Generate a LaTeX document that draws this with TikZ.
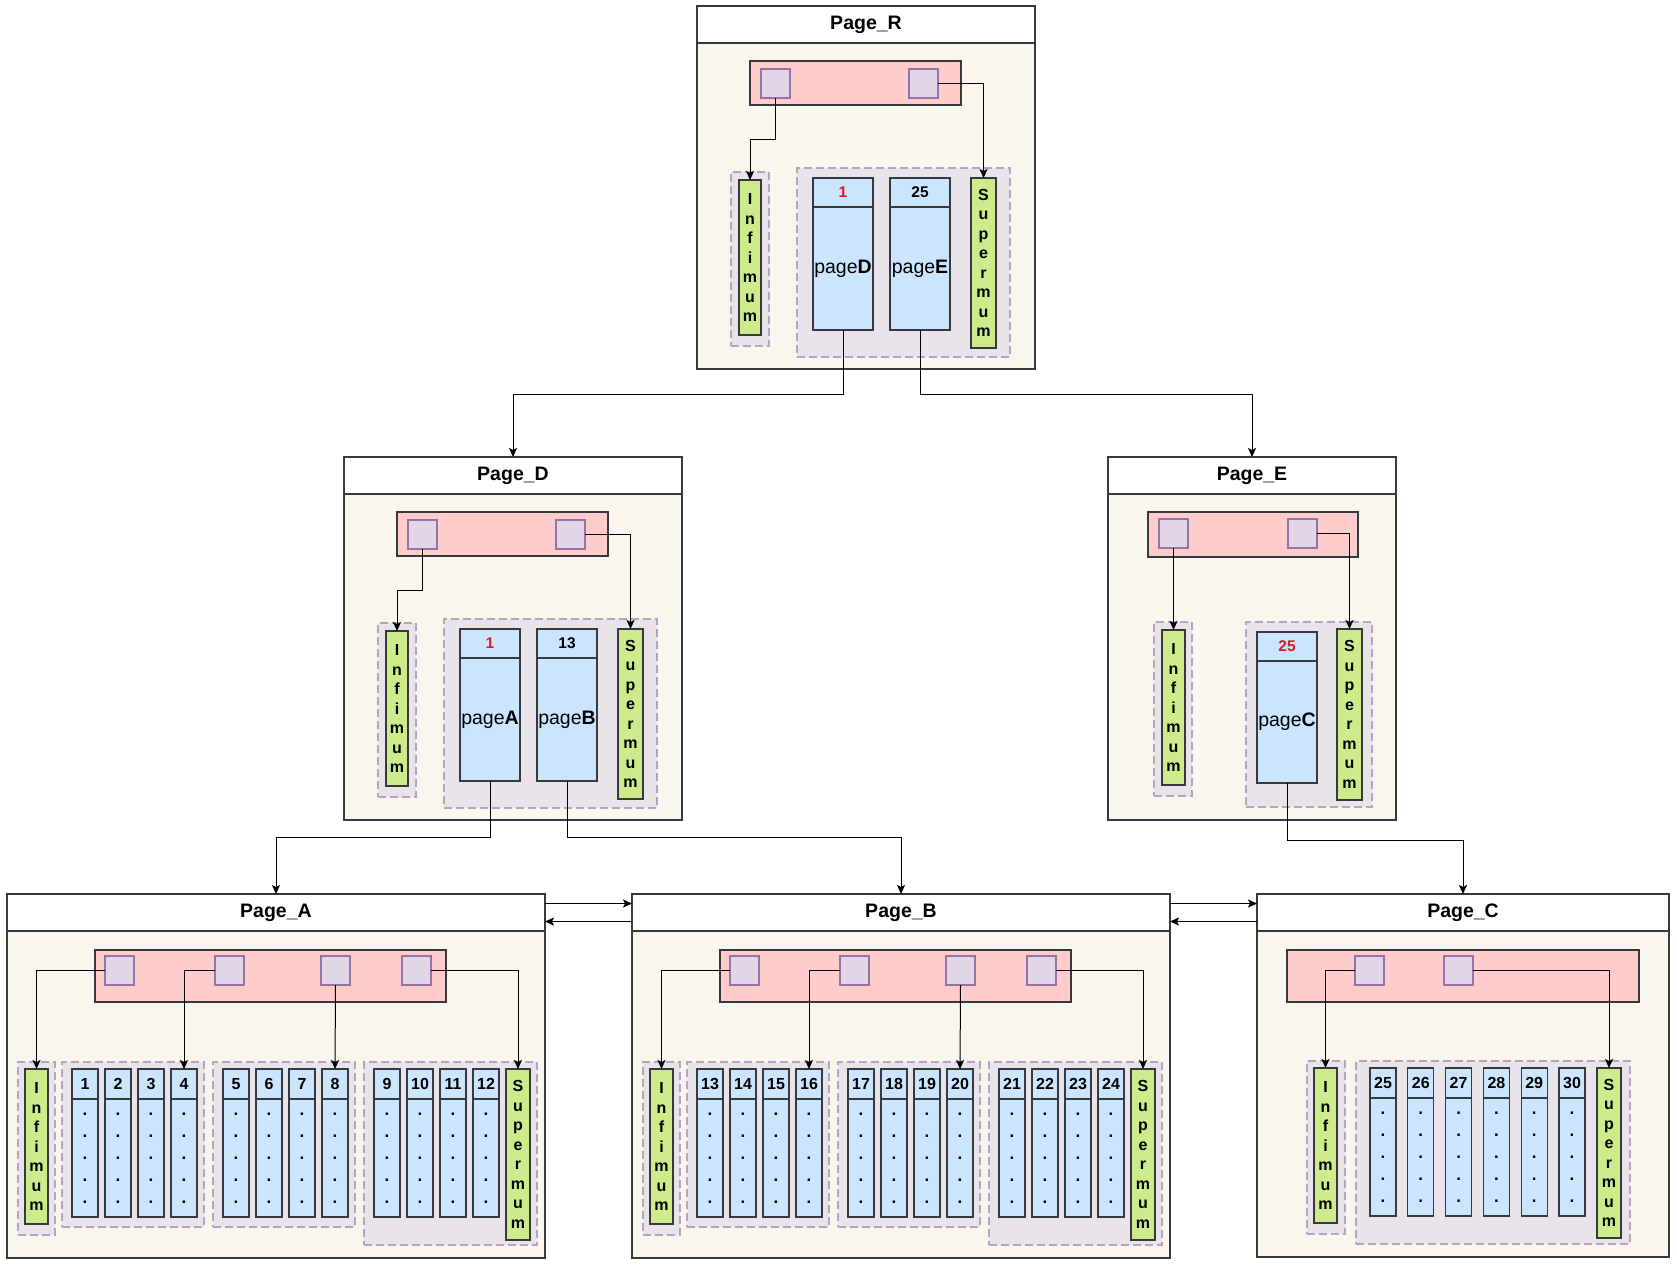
\documentclass[tikz,border=0pt]{standalone}
\usepackage{fontspec}
\setmainfont{Liberation Sans}
\usetikzlibrary{arrows.meta}

\definecolor{pagebg}{HTML}{F9F7ED}
\definecolor{edge}{HTML}{36393D}
\definecolor{barbg}{HTML}{FFCCCC}
\definecolor{slotbg}{HTML}{E1D5E7}
\definecolor{slotline}{HTML}{9673A6}
\definecolor{grpbg}{HTML}{E9E3EA}
\definecolor{grpline}{HTML}{B7A3C3}
\definecolor{recbg}{HTML}{CCE5FF}
\definecolor{limbg}{HTML}{CDEB8B}
\definecolor{keyred}{HTML}{E3191F}

\newcommand\inftext{I\\n\\f\\i\\m\\u\\m}
\newcommand\suptext{S\\u\\p\\e\\r\\m\\u\\m}
\newcommand\dotcol{.\\.\\.\\.\\.}

\begin{document}
\begin{tikzpicture}[x=1pt,y=-1pt,
    box/.style={draw=edge,line width=1.1pt,inner sep=0pt,outer sep=0pt,anchor=north west},
    page/.style={box,fill=pagebg},
    title/.style={box,fill=white,minimum height=37pt,font=\fontsize{19.5}{22}\selectfont\bfseries},
    bar/.style={box,fill=barbg},
    slot/.style={box,draw=slotline,fill=slotbg,minimum width=29pt,minimum height=29pt},
    grp/.style={box,draw=grpline,fill=grpbg,dash pattern=on 8pt off 4pt},
    lim/.style={box,fill=limbg,align=center,font=\fontsize{16}{19.5}\selectfont\bfseries},
    rechead/.style={box,fill=recbg,font=\fontsize{15.5}{18}\selectfont\bfseries},
    recbody/.style={box,fill=recbg,align=center,font=\fontsize{17}{22}\selectfont\bfseries},
    ptr/.style={box,fill=recbg,font=\fontsize{19.5}{20}\selectfont},
    arr/.style={-{Stealth[length=9pt,width=8pt,inset=2pt]},line width=1pt}]
  \path[fill=white,use as bounding box] (0,0) rectangle (1677,1267);

  % Page_R
  \node[page,minimum width=338pt,minimum height=363pt] (pR) at (697,6) {};
  \node[title,minimum width=338pt] (tR) at (697,6) {Page\_R};
  \node[bar,minimum width=211pt,minimum height=44pt] (barR) at (750,61) {};
  \node[slot] (sR1) at (761,69) {};
  \node[slot] (sR2) at (909,69) {};
  \node[grp,minimum width=38pt,minimum height=174pt] at (731,172) {};
  \node[grp,minimum width=213pt,minimum height=189pt] at (797,168) {};
  \node[lim,minimum width=22pt,minimum height=155pt] (infR) at (739,180) {\inftext};
  \node[rechead,minimum width=60pt,minimum height=29pt,text=keyred] (hD) at (813,178) {1};
  \node[ptr,minimum width=60pt,minimum height=123pt] (recD) at (813,207) {page\textbf{D}};
  \node[rechead,minimum width=60pt,minimum height=29pt] (hE) at (890,178) {25};
  \node[ptr,minimum width=60pt,minimum height=123pt] (recE) at (890,207) {page\textbf{E}};
  \node[lim,minimum width=25pt,minimum height=170pt] (supR) at (971,178) {\suptext};
  \draw[arr] (sR1.south) -- ++(0,41) -| (infR.north);
  \draw[arr] (sR2.east) -| (supR.north);

  % Page_D
  \node[page,minimum width=338pt,minimum height=363pt] (pD) at (344,457) {};
  \node[title,minimum width=338pt] (tD) at (344,457) {Page\_D};
  \node[bar,minimum width=211pt,minimum height=44pt] (barD) at (397,512) {};
  \node[slot] (sD1) at (408,520) {};
  \node[slot] (sD2) at (556,520) {};
  \node[grp,minimum width=38pt,minimum height=174pt] at (378,623) {};
  \node[grp,minimum width=213pt,minimum height=189pt] at (444,619) {};
  \node[lim,minimum width=22pt,minimum height=155pt] (infD) at (386,631) {\inftext};
  \node[rechead,minimum width=60pt,minimum height=29pt,text=keyred] (hA) at (460,629) {1};
  \node[ptr,minimum width=60pt,minimum height=123pt] (recA) at (460,658) {page\textbf{A}};
  \node[rechead,minimum width=60pt,minimum height=29pt] (hB) at (537,629) {13};
  \node[ptr,minimum width=60pt,minimum height=123pt] (recB) at (537,658) {page\textbf{B}};
  \node[lim,minimum width=25pt,minimum height=170pt] (supD) at (618,629) {\suptext};
  \draw[arr] (sD1.south) -- ++(0,41) -| (infD.north);
  \draw[arr] (sD2.east) -| (supD.north);

  % Page_E
  \node[page,minimum width=288pt,minimum height=363pt] (pE) at (1108,457) {};
  \node[title,minimum width=288pt] (tE) at (1108,457) {Page\_E};
  \node[bar,minimum width=210pt,minimum height=45pt] (barE) at (1148,512) {};
  \node[slot] (sE1) at (1159,519) {};
  \node[slot] (sE2) at (1288,519) {};
  \node[grp,minimum width=38pt,minimum height=174pt] at (1154,622) {};
  \node[grp,minimum width=126pt,minimum height=185pt] at (1246,622) {};
  \node[lim,minimum width=23pt,minimum height=155pt] (infE) at (1162,630) {\inftext};
  \node[rechead,minimum width=60pt,minimum height=29pt,text=keyred] (hC) at (1257,632) {25};
  \node[ptr,minimum width=60pt,minimum height=122pt] (recC) at (1257,661) {page\textbf{C}};
  \node[lim,minimum width=25pt,minimum height=171pt] (supE) at (1337,629) {\suptext};
  \draw[arr] (sE1.south) -- (infE.north);
  \draw[arr] (sE2.east) -| (supE.north);

  % Page_A, Page_B
  \foreach \p/\dx/\n/\ra/\rb in {A/0/0/4/8,B/625/12/16/20}{
    \begin{scope}[xshift=\dx pt]
      \node[page,minimum width=538pt,minimum height=364pt] (p\p) at (7,894) {};
      \node[title,minimum width=538pt] (t\p) at (7,894) {Page\_\p};
      \node[bar,minimum width=351pt,minimum height=52pt] (bar\p) at (95,950) {};
      \foreach \i/\sx in {1/105,2/215,3/321,4/402}
        \node[slot] (s\p\i) at (\sx,956) {};
      \node[grp,minimum width=37pt,minimum height=173pt] at (18,1062) {};
      \node[grp,minimum width=142pt,minimum height=165pt] at (62,1062) {};
      \node[grp,minimum width=142pt,minimum height=165pt] at (213,1062) {};
      \node[grp,minimum width=173pt,minimum height=183pt] at (364,1062) {};
      \node[lim,minimum width=23pt,minimum height=155pt] (inf\p) at (25,1069) {\inftext};
      \foreach \k in {0,...,11}{
        \pgfmathtruncatemacro\num{\n+\k+1}
        \pgfmathsetmacro\rx{72+33*mod(\k,4)+151*floor(\k/4)}
        \node[rechead,minimum width=26pt,minimum height=30pt,font=\fontsize{16}{18}\selectfont\bfseries] (h\num) at (\rx,1069) {\num};
        \node[recbody,minimum width=26pt,minimum height=118pt] (r\num) at (\rx,1099) {\dotcol};
      }
      \node[lim,minimum width=24pt,minimum height=171pt] (sup\p) at (506,1069) {\suptext};
    \end{scope}
    \draw[arr] (s\p1.west) -| (inf\p.north);
    \draw[arr] (s\p2.west) -| (h\ra.north);
    \draw[arr] (s\p3.south) -- (h\rb.north);
    \draw[arr] (s\p4.east) -| (sup\p.north);
  }

  % Page_C
  \node[page,minimum width=412pt,minimum height=363pt] (pC) at (1257,894) {};
  \node[title,minimum width=412pt] (tC) at (1257,894) {Page\_C};
  \node[bar,minimum width=352pt,minimum height=52pt] (barC) at (1287,950) {};
  \node[slot] (sC1) at (1355,956) {};
  \node[slot] (sC2) at (1444,956) {};
  \node[grp,minimum width=38pt,minimum height=173pt] at (1307,1061) {};
  \node[grp,minimum width=274pt,minimum height=183pt] at (1356,1061) {};
  \node[lim,minimum width=23pt,minimum height=155pt] (infC) at (1314,1068) {\inftext};
  \foreach \k in {0,...,5}{
    \pgfmathtruncatemacro\num{25+\k}
    \pgfmathsetmacro\rx{1370+37.8*\k}
    \node[rechead,minimum width=26pt,minimum height=30pt,font=\fontsize{16}{18}\selectfont\bfseries] (h\num) at (\rx,1068) {\num};
    \node[recbody,minimum width=26pt,minimum height=118pt] (r\num) at (\rx,1098) {\dotcol};
  }
  \node[lim,minimum width=24pt,minimum height=170pt] (supC) at (1597,1068) {\suptext};
  \draw[arr] (sC1.west) -| (infC.north);
  \draw[arr] (sC2.east) -| (supC.north);

  % tree links
  \draw[arr] (recD.south) -- ++(0,64) -| (tD.north);
  \draw[arr] (recE.south) -- ++(0,64) -| (tE.north);
  \draw[arr] (recA.south) -- ++(0,56) -| (tA.north);
  \draw[arr] (recB.south) -- ++(0,56) -| (tB.north);
  \draw[arr] (recC.south) -- ++(0,57) -| (tC.north);

  % sibling links
  \draw[arr] ([yshift=9pt]tA.east) -- ([yshift=9pt]tB.west);
  \draw[arr] ([yshift=-9pt]tB.west) -- ([yshift=-9pt]tA.east);
  \draw[arr] ([yshift=9pt]tB.east) -- ([yshift=9pt]tC.west);
  \draw[arr] ([yshift=-9pt]tC.west) -- ([yshift=-9pt]tB.east);
\end{tikzpicture}
\end{document}
